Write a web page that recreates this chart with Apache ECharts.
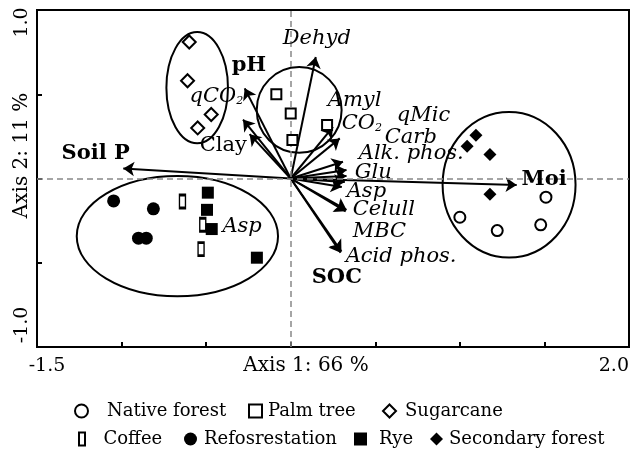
<!DOCTYPE html>
<html>
<head>
<meta charset="utf-8">
<script src="https://cdn.jsdelivr.net/npm/echarts@6/dist/echarts.min.js"></script>
<style>
html,body{margin:0;padding:0;background:#fff}
#main{width:633px;height:451px}
</style>
</head>
<body>
<div id="main"></div>
<script>
var FONT = 'DejaVu Serif';

// sample scores on axis 1 / axis 2
var nativeForest = [[1.509,-0.111],[1.00,-0.230],[1.221,-0.309],[1.478,-0.275]];
var palmTree = [[-0.085,0.500],[0.000,0.386],[0.010,0.228],[0.215,0.317]];
var sugarcane = [[-0.600,0.810],[-0.610,0.580],[-0.470,0.380],[-0.550,0.300]];
var coffee = [[-0.640,-0.137],[-0.520,-0.275],[-0.530,-0.419]];
var refosrestation = [[-1.047,-0.133],[-0.812,-0.180],[-0.900,-0.354],[-0.854,-0.354]];
var rye = [[-0.490,-0.084],[-0.495,-0.186],[-0.467,-0.300],[-0.200,-0.470]];
var secondaryForest = [[1.095,0.257],[1.043,0.192],[1.178,0.143],[1.178,-0.093]];

// variable loadings (arrow tips)
var varNames = ['Soil P','pH','qCO2','Clay','Dehyd','Amyl','CO2','qMic','Carb','Alk. phos.','Glu','Asp','Celull','MBC','Acid phos.','SOC','Moi'];
var varX = [-0.990,-0.272,-0.282,-0.243,0.148,0.250,0.290,0.309,0.330,0.330,0.320,0.302,0.330,0.325,0.300,0.295,1.336];
var varY = [0.060,0.535,0.350,0.263,0.721,0.307,0.238,0.099,0.050,0.015,-0.021,-0.050,-0.186,-0.195,-0.433,-0.440,-0.038];

// label anchors (left edge, middle) and text
var labelText = ['{b|Soil P}','{b|pH}','{i|qCO}{s|2}','{r|Clay}','{i|Dehyd}','{i|Amyl}','{i|CO}{s|2}','{i|qMic}','{i|Carb}','{i|Alk. phos.}','{i|Glu}','{i|Asp}','{i|Celull}','{i|MBC}','{i|Acid phos.}','{b|SOC}','{b|Moi}','{i|Asp}'];
var labelX = [-1.355,-0.349,-0.598,-0.538,-0.047,0.219,0.302,0.627,0.556,0.402,0.379,0.331,0.367,0.367,0.325,0.124,1.365,-0.404];
var labelY = [0.151,0.672,0.488,0.198,0.831,0.464,0.328,0.376,0.246,0.151,0.033,-0.078,-0.186,-0.315,-0.463,-0.589,-0.009,-0.285];

// group ellipses: cx, cy, rx, ry
var groupEllipses = [[-0.553,0.539,0.182,0.330],[0.050,0.407,0.251,0.254],[-0.670,-0.342,0.595,0.357],[1.291,-0.037,0.393,0.432]];

// legend entries
var legendNames = ['Native forest', 'Palm tree', 'Sugarcane', 'Coffee', 'Refosrestation', 'Rye', 'Secondary forest'];

var myChart = echarts.init(document.getElementById('main'));

var arrows = [];
for (var i = 0; i < varNames.length; i++) {
	arrows.push({name: varNames[i], coords: [[0, 0], [varX[i], varY[i]]]});
}
var labels = [];
for (var j = 0; j < labelText.length; j++) {
	labels.push({value: [labelX[j], labelY[j]], label: {formatter: labelText[j]}});
}

function pointSeries(name, data, symbol, size, filled) {
	return {
		name: name,
		type: 'scatter',
		data: data,
		symbol: symbol,
		symbolSize: size,
		z: 5,
		itemStyle: {
			color: filled ? '#000' : '#fff',
			borderColor: '#000',
			borderWidth: filled ? 0 : 2,
			opacity: 1
		}
	};
}

// legend layout: icon left, top, gap before text
var legendPos = [[74, 402, 14], [248, 402, 1], [382, 402, 4], [78, 430, 10], [184, 430, 2], [354, 430, 7], [430, 430, 1]];
var legends = legendNames.map(function (n, k) {
	var item = {name: n};
	if (n === 'Coffee') item.icon = 'path://M0,0L6,0L6,13L0,13Z';
	return {
		data: [item],
		left: legendPos[k][0], top: legendPos[k][1],
		padding: 0,
		itemWidth: 13, itemHeight: 13,
		textStyle: {fontFamily: FONT, fontSize: 18, color: '#000', padding: [0, 0, 0, legendPos[k][2]]}
	};
});

var option = {
	animation: false,
	textStyle: {fontFamily: FONT},
	grid: {left: 37, right: 4, top: 10, bottom: 104, show: true, borderColor: '#000', borderWidth: 2, outerBoundsMode: 'none', containLabel: false},
	legend: legends,
	xAxis: {
		type: 'value', min: -1.5, max: 2, interval: 0.5,
		name: 'Axis 1: 66 %', nameLocation: 'middle', nameGap: 9, nameMoveOverlap: false,
		nameTextStyle: {fontFamily: FONT, fontSize: 20, color: '#000', verticalAlign: 'top', padding: [0, 54, 0, 0]},
		axisLine: {show: false, onZero: false},
		axisTick: {inside: true, length: 5, lineStyle: {color: '#000', width: 2}},
		splitLine: {show: false},
		axisLabel: {
			margin: 10, color: '#000', fontFamily: FONT, fontSize: 19,
			alignMaxLabel: 'right',
			formatter: function (v) {
				if (v === -1.5) return '{l|-1.5}';
				if (v === 2) return '2.0';
				return '';
			},
			rich: {l: {fontFamily: FONT, fontSize: 19, color: '#000', padding: [0, 0, 0, 20]}}
		}
	},
	yAxis: {
		type: 'value', min: -1, max: 1, interval: 0.5,
		name: 'Axis 2: 11 %', nameLocation: 'middle', nameGap: 5, nameRotate: 90, nameMoveOverlap: false,
		nameTextStyle: {fontFamily: FONT, fontSize: 20, color: '#000', padding: [0, 0, 0, 46]},
		axisLine: {show: false, onZero: false},
		axisTick: {inside: true, length: 5, lineStyle: {color: '#000', width: 2}},
		splitLine: {show: false},
		axisLabel: {
			margin: 5, rotate: 90, color: '#000', fontFamily: FONT, fontSize: 19,
			formatter: function (v) {
				if (v === 1) return '{t|1.0}';
				if (v === -1) return '{m|-1.0}';
				return '';
			},
			rich: {
				t: {fontFamily: FONT, fontSize: 19, color: '#000', padding: [0, 25, 0, 0]},
				m: {fontFamily: FONT, fontSize: 19, color: '#000', padding: [0, 0, 0, 44]}
			}
		}
	},
	series: [{
		name: 'zero',
		type: 'scatter',
		data: [[0, 0]],
		symbolSize: 0,
		silent: true,
		z: 1,
		markLine: {
			silent: true,
			symbol: 'none',
			label: {show: false},
			lineStyle: {color: '#888', type: [6, 4], width: 1.5},
			data: [{xAxis: 0}, {yAxis: 0}]
		}
	}, {
		name: 'groups',
		type: 'custom',
		data: groupEllipses,
		z: 2,
		silent: true,
		renderItem: function (params, api) {
			var c = api.coord([api.value(0), api.value(1)]);
			var s = api.size([api.value(2), api.value(3)]);
			return {
				type: 'ellipse',
				shape: {cx: c[0], cy: c[1], rx: s[0], ry: s[1]},
				style: {fill: 'none', stroke: '#000', lineWidth: 2}
			};
		}
	}, {
		name: 'loadings',
		type: 'lines',
		coordinateSystem: 'cartesian2d',
		data: arrows,
		z: 3,
		silent: true,
		symbol: ['none', 'arrow'],
		symbolSize: 11,
		lineStyle: {color: '#000', width: 2, opacity: 1}
	},
	pointSeries('Native forest', nativeForest, 'circle', 11, false),
	pointSeries('Palm tree', palmTree, 'rect', 10, false),
	pointSeries('Sugarcane', sugarcane, 'diamond', 13, false),
	pointSeries('Coffee', coffee, 'rect', [6, 13], false),
	pointSeries('Refosrestation', refosrestation, 'circle', 13, true),
	pointSeries('Rye', rye, 'rect', 12, true),
	pointSeries('Secondary forest', secondaryForest, 'diamond', 13, true),
	{
		name: 'labels',
		type: 'scatter',
		data: labels,
		symbolSize: 0,
		silent: true,
		z: 6,
		itemStyle: {opacity: 1},
		label: {
			show: true, position: 'right', distance: 0, color: '#000',
			rich: {
				i: {fontFamily: FONT, fontStyle: 'italic', fontSize: 21, color: '#000'},
				b: {fontFamily: FONT, fontWeight: 'bold', fontSize: 21, color: '#000'},
				r: {fontFamily: FONT, fontSize: 21, color: '#000'},
				s: {fontFamily: FONT, fontStyle: 'italic', fontSize: 11, color: '#000', verticalAlign: 'bottom'}
			}
		}
	}]
};
myChart.setOption(option);
</script>
</body>
</html>
